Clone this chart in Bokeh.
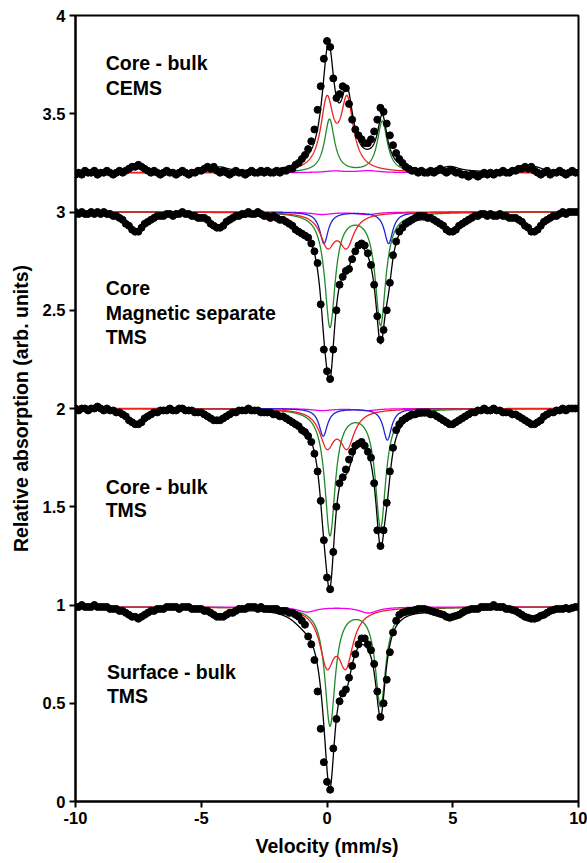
import numpy as np
from bokeh.plotting import figure
from bokeh.models import Label, FixedTicker, CustomJSTickFormatter, Range1d
from bokeh.embed import file_html
from bokeh.resources import INLINE

# ---------------- data ----------------
# velocity channels, 0.125 mm/s apart
VELOCITY = np.linspace(-10.0, 10.0, 161)

CEMS_CORE_BULK = [
    3.19,3.20,3.19,3.21,3.20,3.20,3.21,3.19,3.20,3.20,3.21,3.20,3.19,3.20,3.21,3.20,3.21,3.22,3.23,3.23,
    3.24,3.23,3.22,3.21,3.20,3.21,3.20,3.19,3.20,3.21,3.20,3.20,3.19,3.20,3.21,3.20,3.19,3.20,3.20,3.21,
    3.21,3.22,3.23,3.22,3.23,3.21,3.20,3.21,3.20,3.19,3.20,3.21,3.20,3.20,3.19,3.20,3.21,3.20,3.20,3.21,
    3.20,3.21,3.20,3.20,3.21,3.20,3.21,3.21,3.22,3.22,3.24,3.25,3.27,3.29,3.32,3.36,3.42,3.52,3.64,3.78,
    3.87,3.84,3.68,3.58,3.60,3.64,3.63,3.55,3.47,3.42,3.39,3.37,3.35,3.35,3.37,3.41,3.47,3.53,3.51,3.45,
    3.39,3.34,3.30,3.27,3.25,3.23,3.22,3.21,3.21,3.20,3.21,3.20,3.20,3.21,3.20,3.21,3.22,3.21,3.20,3.21,
    3.21,3.20,3.20,3.19,3.19,3.18,3.19,3.19,3.18,3.19,3.20,3.19,3.20,3.19,3.20,3.20,3.21,3.20,3.20,3.21,
    3.21,3.22,3.22,3.23,3.22,3.23,3.21,3.20,3.19,3.20,3.21,3.19,3.20,3.20,3.21,3.20,3.19,3.20,3.21,3.20,3.20,
]
TMS_CORE_MAGNETIC = [
    3.00,2.99,3.00,2.99,2.99,3.00,2.99,3.00,2.99,3.00,2.99,2.99,2.98,2.98,2.97,2.96,2.94,2.93,2.91,2.90,
    2.90,2.92,2.94,2.95,2.96,2.97,2.98,2.98,2.98,2.99,2.99,2.98,2.99,2.99,3.00,2.99,2.99,2.98,2.98,2.97,
    2.97,2.97,2.96,2.94,2.93,2.92,2.92,2.93,2.95,2.96,2.97,2.98,2.98,2.99,2.99,3.00,2.99,2.99,3.00,2.99,
    2.98,2.98,2.97,2.98,2.97,2.96,2.96,2.95,2.94,2.93,2.91,2.90,2.89,2.88,2.87,2.84,2.80,2.74,2.53,2.30,
    2.19,2.15,2.30,2.50,2.63,2.67,2.70,2.71,2.76,2.80,2.83,2.84,2.83,2.79,2.73,2.63,2.47,2.35,2.40,2.50,
    2.64,2.78,2.85,2.90,2.92,2.94,2.95,2.96,2.97,2.98,2.98,2.98,2.97,2.97,2.96,2.95,2.94,2.93,2.91,2.90,
    2.90,2.91,2.93,2.94,2.95,2.96,2.97,2.98,2.98,2.99,2.99,2.98,2.99,2.98,2.98,2.99,2.98,2.98,2.97,2.97,
    2.97,2.96,2.95,2.93,2.92,2.90,2.90,2.91,2.93,2.95,2.96,2.97,2.98,2.98,2.99,3.00,2.99,3.00,3.00,3.00,3.00,
]
TMS_CORE_BULK = [
    2.00,1.99,2.00,2.00,1.99,2.00,2.00,2.01,2.00,1.99,2.00,1.99,1.99,1.98,1.98,1.97,1.96,1.94,1.93,1.92,
    1.92,1.93,1.95,1.96,1.97,1.98,1.98,1.99,1.99,1.99,2.00,1.99,1.99,2.00,2.00,1.99,1.99,1.99,1.98,1.98,
    1.98,1.97,1.96,1.95,1.94,1.94,1.94,1.95,1.96,1.97,1.98,1.98,1.99,1.99,1.99,2.00,1.99,1.99,1.99,1.98,
    1.98,1.98,1.98,1.97,1.97,1.96,1.96,1.95,1.94,1.93,1.92,1.91,1.89,1.88,1.86,1.83,1.77,1.68,1.53,1.33,
    1.14,1.08,1.27,1.50,1.62,1.65,1.69,1.74,1.78,1.81,1.82,1.83,1.81,1.78,1.75,1.62,1.38,1.30,1.38,1.52,
    1.68,1.80,1.89,1.92,1.94,1.95,1.96,1.97,1.97,1.98,1.98,1.98,1.98,1.97,1.97,1.96,1.95,1.94,1.93,1.92,
    1.92,1.93,1.94,1.95,1.96,1.97,1.98,1.98,1.99,1.99,2.00,1.99,1.99,2.00,1.99,1.99,1.98,1.98,1.98,1.97,
    1.97,1.96,1.95,1.94,1.93,1.92,1.92,1.93,1.94,1.96,1.97,1.98,1.98,1.99,1.99,2.00,1.99,2.00,2.00,2.00,2.00,
]
TMS_SURFACE_BULK = [
    0.99,0.99,1.00,0.99,0.99,0.99,1.00,0.99,0.99,0.99,0.99,0.98,0.98,0.98,0.97,0.97,0.96,0.95,0.94,0.94,
    0.93,0.94,0.95,0.96,0.97,0.97,0.98,0.98,0.98,0.99,0.99,0.99,0.99,0.98,0.99,0.99,0.99,0.98,0.98,0.98,
    0.98,0.97,0.97,0.96,0.95,0.94,0.94,0.94,0.95,0.96,0.96,0.97,0.98,0.98,0.98,0.99,0.99,0.99,0.98,0.99,
    0.98,0.98,0.98,0.98,0.98,0.97,0.97,0.97,0.96,0.96,0.95,0.94,0.92,0.90,0.84,0.80,0.72,0.56,0.37,0.20,
    0.10,0.06,0.27,0.42,0.51,0.55,0.57,0.63,0.69,0.75,0.80,0.83,0.83,0.80,0.77,0.70,0.56,0.43,0.50,0.62,
    0.76,0.86,0.92,0.95,0.96,0.965,0.97,0.97,0.975,0.98,0.98,0.98,0.975,0.97,0.965,0.96,0.955,0.95,0.94,0.935,
    0.94,0.945,0.95,0.96,0.97,0.975,0.98,0.98,0.98,0.99,0.99,0.99,0.99,1.00,0.99,0.99,0.99,0.98,0.98,0.975,
    0.97,0.96,0.95,0.94,0.935,0.93,0.93,0.935,0.945,0.95,0.96,0.97,0.975,0.98,0.98,0.98,0.985,0.98,0.985,0.99,0.99,
]

# fitted sub-spectra: line positions (mm/s), line amplitudes, half widths (mm/s)
# spectrum 1: Core - bulk CEMS (emission, baseline 3.2)
S1_BASE = 3.2
S1_RED_POS, S1_RED_AMP, S1_RED_HW = [0.0, 0.8], [0.35, 0.35], 0.30
S1_GREEN_POS, S1_GREEN_AMP, S1_GREEN_HW = [0.1, 2.2], [0.27, 0.26], 0.24
S1_MAG_POS, S1_MAG_AMP, S1_MAG_HW = [0.3, 1.65], [0.008, 0.010], 0.5
S1_SEXT_POS = [-7.6, -4.3, -1.1, 1.7, 4.9, 8.2]
S1_SEXT_AMP = [0.03, 0.025, 0.01, 0.01, 0.025, 0.03]

# spectrum 2: Core magnetic separate TMS (absorption, baseline 3.0)
S2_BASE = 3.0
S2_RED_POS, S2_RED_AMP, S2_RED_HW = [0.02, 0.78], [0.16, 0.16], 0.35
S2_GREEN_POS, S2_GREEN_AMP, S2_GREEN_HW = [0.12, 2.13], [0.58, 0.57], 0.25
S2_BLUE_POS, S2_BLUE_AMP, S2_BLUE_HW = [-0.12, 2.45], [0.16, 0.16], 0.20
S2_MAG_POS, S2_MAG_AMP, S2_MAG_HW = [-0.2, 1.6], [0.012, 0.012], 0.5
S2_SEXT_POS = [-7.6, -4.3, -1.1, 1.7, 4.9, 8.2]
S2_SEXT_AMP = [0.10, 0.08, 0.04, 0.04, 0.09, 0.10]

# spectrum 3: Core - bulk TMS (baseline 2.0)
S3_BASE = 2.0
S3_RED_POS, S3_RED_AMP, S3_RED_HW = [0.0, 0.8], [0.18, 0.18], 0.35
S3_GREEN_POS, S3_GREEN_AMP, S3_GREEN_HW = [0.12, 2.13], [0.64, 0.60], 0.25
S3_BLUE_POS, S3_BLUE_AMP, S3_BLUE_HW = [-0.15, 2.4], [0.14, 0.16], 0.20
S3_MAG_POS, S3_MAG_AMP, S3_MAG_HW = [-0.2, 1.6], [0.010, 0.010], 0.5
S3_SEXT_POS = [-7.6, -4.35, -1.1, 1.7, 4.9, 8.2]
S3_SEXT_AMP = [0.08, 0.065, 0.03, 0.03, 0.075, 0.08]

# spectrum 4: Surface - bulk TMS (baseline 0.99)
S4_BASE = 0.99
S4_RED_POS, S4_RED_AMP, S4_RED_HW = [0.0, 0.75], [0.27, 0.27], 0.35
S4_GREEN_POS, S4_GREEN_AMP, S4_GREEN_HW = [0.12, 2.13], [0.60, 0.50], 0.25
S4_MAG_POS, S4_MAG_AMP, S4_MAG_HW = [-0.8, 1.65], [0.025, 0.03], 0.45
S4_SEXT_POS = [-7.6, -4.25, -1.1, 1.7, 4.9, 8.2]
S4_SEXT_AMP = [0.055, 0.05, 0.02, 0.02, 0.055, 0.06]

SEXT_HW = 0.45

Y_TICKS = [0, 0.5, 1, 1.5, 2, 2.5, 3, 3.5, 4]
X_TICKS = [-10, -5, 0, 5, 10]

RED, GREEN, BLUE, MAGENTA = "#ee2020", "#1f8a2a", "#2222dd", "#ee00ee"
FONT = "Liberation Sans"

# ---------------- figure ----------------
xs = np.linspace(-10, 10, 1601)


def lines(pos, amp, hw):
    out = np.zeros_like(xs)
    for p_, a_ in zip(pos, amp):
        out += a_ * hw ** 2 / (hw ** 2 + (xs - p_) ** 2)
    return out


p = figure(width=587, height=863, output_backend="svg", toolbar_location=None,
           x_range=Range1d(-10, 10), y_range=Range1d(0, 4))
p.min_border_left = 75
p.min_border_right = 9
p.min_border_top = 15
p.min_border_bottom = 62
p.background_fill_color = "white"
p.border_fill_color = "white"
p.outline_line_color = "black"
p.outline_line_width = 2
p.xgrid.visible = False
p.ygrid.visible = False

# components listed in drawing order: magenta, blue, green, red (red on top)
spectra = [
    (S1_BASE, +1, CEMS_CORE_BULK,
     [(S1_MAG_POS, S1_MAG_AMP, S1_MAG_HW, MAGENTA), (S1_GREEN_POS, S1_GREEN_AMP, S1_GREEN_HW, GREEN),
      (S1_RED_POS, S1_RED_AMP, S1_RED_HW, RED)], (S1_SEXT_POS, S1_SEXT_AMP)),
    (S2_BASE, -1, TMS_CORE_MAGNETIC,
     [(S2_MAG_POS, S2_MAG_AMP, S2_MAG_HW, MAGENTA), (S2_BLUE_POS, S2_BLUE_AMP, S2_BLUE_HW, BLUE),
      (S2_GREEN_POS, S2_GREEN_AMP, S2_GREEN_HW, GREEN), (S2_RED_POS, S2_RED_AMP, S2_RED_HW, RED)],
     (S2_SEXT_POS, S2_SEXT_AMP)),
    (S3_BASE, -1, TMS_CORE_BULK,
     [(S3_MAG_POS, S3_MAG_AMP, S3_MAG_HW, MAGENTA), (S3_BLUE_POS, S3_BLUE_AMP, S3_BLUE_HW, BLUE),
      (S3_GREEN_POS, S3_GREEN_AMP, S3_GREEN_HW, GREEN), (S3_RED_POS, S3_RED_AMP, S3_RED_HW, RED)],
     (S3_SEXT_POS, S3_SEXT_AMP)),
    (S4_BASE, -1, TMS_SURFACE_BULK,
     [(S4_MAG_POS, S4_MAG_AMP, S4_MAG_HW, MAGENTA), (S4_GREEN_POS, S4_GREEN_AMP, S4_GREEN_HW, GREEN),
      (S4_RED_POS, S4_RED_AMP, S4_RED_HW, RED)], (S4_SEXT_POS, S4_SEXT_AMP)),
]

for base, sign, data, comps, sext in spectra:
    total = np.zeros_like(xs)
    for pos, amp, hw, col in comps:
        c = lines(pos, amp, hw)
        total += c
        p.line(xs, base + sign * c, line_color=col, line_width=1.3)
    total += lines(sext[0], sext[1], SEXT_HW)
    p.line(xs, base + sign * total, line_color="black", line_width=1.3)
    p.scatter(VELOCITY, data, size=7, fill_color="black", line_color="black")

# annotations
labels = [
    (-8.8, 3.760, "Core - bulk"), (-8.8, 3.632, "CEMS"),
    (-8.8, 2.612, "Core"), (-8.8, 2.485, "Magnetic separate"), (-8.8, 2.363, "TMS"),
    (-8.8, 1.603, "Core - bulk"), (-8.8, 1.481, "TMS"),
    (-8.75, 0.658, "Surface - bulk"), (-8.75, 0.539, "TMS"),
]
for lx, ly, lt in labels:
    p.add_layout(Label(x=lx, y=ly, text=lt, text_font=FONT, text_font_style="bold",
                       text_font_size="19.5px", text_color="black", text_baseline="alphabetic"))

# axes
fmt = CustomJSTickFormatter(code="return tick.toString();")
for ax in (p.xaxis[0], p.yaxis[0]):
    ax.axis_line_width = 2
    ax.axis_line_color = "black"
    ax.major_tick_line_width = 2
    ax.major_tick_line_color = "black"
    ax.major_tick_out = 6
    ax.major_tick_in = 0
    ax.minor_tick_line_color = None
    ax.major_label_text_font = FONT
    ax.major_label_text_font_style = "bold"
    ax.major_label_text_font_size = "16.5px"
    ax.major_label_text_color = "black"
    ax.axis_label_text_font = FONT
    ax.axis_label_text_font_style = "bold"
    ax.axis_label_text_font_size = "19.5px"
    ax.axis_label_text_color = "black"
    ax.formatter = fmt
p.xaxis[0].ticker = FixedTicker(ticks=X_TICKS)
p.yaxis[0].ticker = FixedTicker(ticks=Y_TICKS)
p.xaxis[0].axis_label = "Velocity (mm/s)"
p.yaxis[0].axis_label = "Relative absorption (arb. units)"
p.xaxis[0].major_label_standoff = 4
p.yaxis[0].major_label_standoff = 4
p.xaxis[0].axis_label_standoff = 8
p.yaxis[0].axis_label_standoff = 8

open("out.html", "w").write(file_html(p, INLINE))
